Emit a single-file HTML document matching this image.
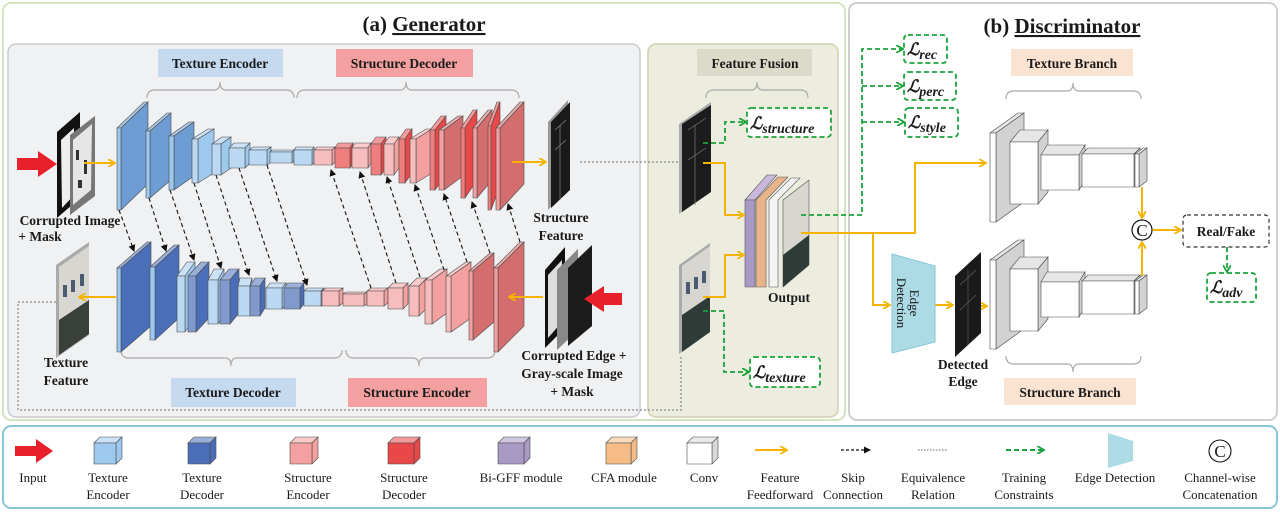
<!DOCTYPE html>
<html><head><meta charset="utf-8"><style>
html,body{margin:0;padding:0;background:#fff;}
svg{display:block;}
text{font-family:"Liberation Serif",serif;fill:#1a1a1a;}
.b{font-weight:bold;font-size:13.5px;}
.lg{font-size:13px;}
</style></head><body>
<svg id="s" width="1280" height="512" viewBox="0 0 1280 512" xmlns="http://www.w3.org/2000/svg">
<defs>
<marker id="ao" markerWidth="8" markerHeight="8" refX="6" refY="4" orient="auto" markerUnits="userSpaceOnUse"><path d="M0,0 L7,4 L0,8" fill="none" stroke="#f5b400" stroke-width="1.8"/></marker>
<marker id="ag" markerWidth="8" markerHeight="8" refX="6" refY="4" orient="auto" markerUnits="userSpaceOnUse"><path d="M0,0 L7,4 L0,8" fill="none" stroke="#1aa33a" stroke-width="1.8"/></marker>
<marker id="ak" markerWidth="7" markerHeight="7" refX="6" refY="3.5" orient="auto" markerUnits="userSpaceOnUse"><path d="M0,0 L7,3.5 L0,7 z" fill="#111"/></marker>
</defs>
<!-- panels -->
<rect x="3" y="3" width="842" height="417" rx="8" fill="#fff" stroke="#d4e4bf" stroke-width="2"/>
<rect x="8" y="44" width="632" height="373" rx="8" fill="#f0f1f3" stroke="#c8cacd" stroke-width="1.5"/>
<rect x="648" y="44" width="190" height="373" rx="8" fill="#ededdf" stroke="#cfcfae" stroke-width="1.5"/>
<rect x="849" y="3" width="428" height="417" rx="8" fill="#fff" stroke="#cfcfcf" stroke-width="2"/>
<rect x="3" y="426" width="1274" height="82" rx="8" fill="#fff" stroke="#86c6d6" stroke-width="2"/>
<text x="424" y="31" text-anchor="middle" style="font-weight:bold;font-size:21px">(a) <tspan text-decoration="underline">Generator</tspan></text>
<text x="1062" y="33" text-anchor="middle" style="font-weight:bold;font-size:21px">(b) <tspan text-decoration="underline">Discriminator</tspan></text>

<!-- label boxes -->
<rect x="158" y="49" width="125" height="28" fill="#c5d9ef"/><text x="220" y="68" text-anchor="middle" class="b">Texture Encoder</text>
<rect x="336" y="49" width="137" height="28" fill="#f4a0a0"/><text x="404" y="68" text-anchor="middle" class="b">Structure Decoder</text>
<rect x="171" y="378" width="125" height="29" fill="#c5d9ef"/><text x="233" y="397" text-anchor="middle" class="b">Texture Decoder</text>
<rect x="348" y="378" width="139" height="29" fill="#f4a0a0"/><text x="417" y="397" text-anchor="middle" class="b">Structure Encoder</text>
<rect x="697" y="49" width="115" height="27" fill="#dcdac8"/><text x="755" y="68" text-anchor="middle" class="b">Feature Fusion</text>
<rect x="1011" y="49" width="122" height="27" fill="#fbe3d2"/><text x="1072" y="68" text-anchor="middle" class="b">Texture Branch</text>
<rect x="1004" y="378" width="132" height="27" fill="#fbe3d2"/><text x="1070" y="397" text-anchor="middle" class="b">Structure Branch</text>

<!-- braces -->
<g fill="none" stroke="#aaa" stroke-width="1.2">
<path d="M147,98 Q147,90 155,90 L214,90 Q220,90 220,82 Q220,90 226,90 L286,90 Q294,90 294,98"/>
<path d="M297,98 Q297,90 305,90 L400,90 Q406,90 406,82 Q406,90 412,90 L511,90 Q519,90 519,98"/>
<path d="M121,350 Q121,358 129,358 L225,358 Q231,358 231,366 Q231,358 237,358 L334,358 Q342,358 342,350"/>
<path d="M346,350 Q346,358 354,358 L413,358 Q419,358 419,366 Q419,358 425,358 L487,358 Q495,358 495,350"/>
<path d="M706,98 Q706,90 714,90 L751,90 Q757,90 757,82 Q757,90 763,90 L800,90 Q808,90 808,98"/>
<path d="M1006,99 Q1006,91 1014,91 L1067,91 Q1073,91 1073,83 Q1073,91 1079,91 L1133,91 Q1141,91 1141,99"/>
<path d="M1006,356 Q1006,364 1014,364 L1067,364 Q1073,364 1073,372 Q1073,364 1079,364 L1133,364 Q1141,364 1141,356"/>
</g>

<g id="cubes"></g>

<!-- skip connections -->
<g stroke="#111" stroke-width="1.1" stroke-dasharray="4,3" marker-end="url(#ak)">
<line x1="119" y1="210" x2="134" y2="251"/><line x1="149" y1="198" x2="166" y2="251"/><line x1="170" y1="190" x2="194" y2="260"/>
<line x1="194" y1="183" x2="221" y2="268"/><line x1="216" y1="175" x2="249" y2="275"/><line x1="239" y1="168" x2="277" y2="281"/>
<line x1="267" y1="165" x2="307" y2="285"/>
<line x1="371" y1="288" x2="331" y2="170"/><line x1="396" y1="283" x2="360" y2="172"/><line x1="420" y1="277" x2="387" y2="177"/>
<line x1="444" y1="270" x2="415" y2="185"/><line x1="467" y1="262" x2="444" y2="194"/><line x1="490" y1="253" x2="472" y2="202"/>
<line x1="520" y1="242" x2="508" y2="204"/>
</g>

<!-- images -->
<polygon points="57,132 80,112 80,198 57,218" fill="#111"/>
<polygon points="61,140 74,128 74,195 62,208" fill="#eee"/>
<polygon points="70,135 95,116 95,196 70,215" fill="#777"/>
<polygon points="73,140 92,124 91,190 73,205" fill="#e6e6e6"/>
<g fill="#333"><rect x="76" y="150" width="3" height="10"/><rect x="84" y="160" width="3" height="14"/><rect x="78" y="180" width="4" height="8"/></g>
<polygon points="548,122 568,100 568,188 548,210" fill="#999"/>
<polygon points="551,122 570,102 570,190 551,208" fill="#1a1a1a"/>
<g stroke="#888" stroke-width="0.7"><line x1="555" y1="130" x2="566" y2="120"/><line x1="555" y1="150" x2="566" y2="140"/><line x1="560" y1="125" x2="560" y2="200"/></g>
<polygon points="56,265 89,242 89,335 56,358" fill="#aaa"/>
<polygon points="59,267 89,246 89,334 59,355" fill="#d8d6d0"/>
<polygon points="59,320 89,300 89,334 59,355" fill="#39403a"/>
<g fill="#4a5a70"><rect x="63" y="285" width="4" height="12"/><rect x="71" y="280" width="4" height="12"/><rect x="80" y="274" width="4" height="12"/></g>
<polygon points="545,270 565,247 565,328 545,348" fill="#111"/>
<polygon points="548,275 562,260 562,322 548,338" fill="#ddd"/>
<polygon points="557,270 578,249 578,330 557,350" fill="#888"/>
<polygon points="568,268 592,245 592,326 568,346" fill="#1c1c1c"/>
<!-- red input arrows -->
<polygon points="17,158 38,158 38,151 57,164 38,177 38,170 17,170" fill="#e8202a"/>
<polygon points="622,293 604,293 604,286 584,299 604,312 604,305 622,305" fill="#e8202a"/>
<!-- orange in generator -->
<g stroke="#f5b400" stroke-width="2" fill="none" marker-end="url(#ao)">
<line x1="84" y1="163" x2="114" y2="163"/><line x1="512" y1="162" x2="545" y2="162"/>
<line x1="543" y1="297" x2="510" y2="297"/><line x1="116" y1="297" x2="80" y2="297"/>
</g>
<!-- dotted equivalence -->
<g stroke="#999" stroke-width="1.5" stroke-dasharray="2,2" fill="none">
<line x1="580" y1="162" x2="682" y2="162"/>
<path d="M56,302 L18,302 L18,410 L681,410 L681,355"/>
</g>

<!-- label texts generator -->
<text x="70" y="225" text-anchor="middle" class="b">Corrupted Image</text>
<text x="40" y="241" text-anchor="middle" class="b">+ Mask</text>
<text x="561" y="222" text-anchor="middle" class="b">Structure</text>
<text x="561" y="240" text-anchor="middle" class="b">Feature</text>
<text x="66" y="367" text-anchor="middle" class="b">Texture</text>
<text x="66" y="385" text-anchor="middle" class="b">Feature</text>
<text x="574" y="360" text-anchor="middle" class="b">Corrupted Edge +</text>
<text x="572" y="378" text-anchor="middle" class="b">Gray-scale Image</text>
<text x="572" y="396" text-anchor="middle" class="b">+ Mask</text>

<!-- feature fusion -->
<polygon points="679,124 711,102 711,192 679,214" fill="#aaa"/>
<polygon points="682,124 711,105 711,192 682,212" fill="#1c1c1c"/>
<g stroke="#777" stroke-width="0.7"><line x1="688" y1="130" x2="706" y2="118"/><line x1="688" y1="160" x2="706" y2="148"/><line x1="695" y1="125" x2="695" y2="205"/></g>
<polygon points="679,265 710,243 710,332 679,354" fill="#aaa"/>
<polygon points="682,266 710,246 710,332 682,352" fill="#d8d6d0"/>
<polygon points="682,315 710,296 710,332 682,352" fill="#2f3b36"/>
<g fill="#4a5a70"><rect x="686" y="282" width="4" height="12"/><rect x="694" y="277" width="4" height="12"/><rect x="702" y="271" width="4" height="12"/></g>
<!-- output stack -->
<polygon points="745,200 767,175 777,175 755,200" fill="#c9b8dc" stroke="#555" stroke-width=".6"/>
<polygon points="745,200 755,200 755,287 745,287" fill="#a899c5" stroke="#555" stroke-width=".6"/>
<polygon points="756,200 778,177 788,177 766,200 766,287 756,287" fill="#eab48a" stroke="#555" stroke-width=".6"/>
<polygon points="769,200 791,178 800,178 778,200 778,287 769,287" fill="#f4f4f4" stroke="#555" stroke-width=".6"/>
<polygon points="783,200 809,180 809,265 783,287" fill="#d8d6d0" stroke="#555" stroke-width=".6"/>
<polygon points="783,255 809,235 809,265 783,287" fill="#2f3b36"/>
<text x="789" y="302" text-anchor="middle" class="b">Output</text>
<g stroke="#f5b400" stroke-width="2" fill="none" marker-end="url(#ao)">
<path d="M703,163 L725,163 L725,215 L743,215"/>
<path d="M703,297 L725,297 L725,255 L743,255"/>
<path d="M801,233 L915,233 L915,163 L985,163"/>
<path d="M873,233 L873,305 L889,305"/>
<line x1="935" y1="305" x2="952" y2="305"/>
<line x1="970" y1="306" x2="986" y2="306"/>
<line x1="1142" y1="187" x2="1142" y2="217"/>
<line x1="1142" y1="276" x2="1142" y2="243"/>
<line x1="1153" y1="230" x2="1180" y2="230"/>
</g>
<!-- green constraints -->
<g stroke="#1aa33a" stroke-width="1.8" stroke-dasharray="5,3" fill="none" marker-end="url(#ag)">
<path d="M703,143 L725,143 L725,122 L745,122"/>
<path d="M703,311 L724,311 L724,372 L748,372"/>
<path d="M801,215 L862,215 L862,49 L902,49"/>
<path d="M862,86 L902,86"/>
<path d="M862,122 L903,122"/>
<line x1="1227" y1="247" x2="1227" y2="271"/>
</g>
<g fill="#fff" stroke="#1aa33a" stroke-width="1.8" stroke-dasharray="5,3">
<rect x="747" y="108" width="84" height="29" rx="4"/>
<rect x="750" y="357" width="70" height="30" rx="4"/>
<rect x="904" y="35" width="43" height="28" rx="4"/>
<rect x="904" y="72" width="52" height="28" rx="4"/>
<rect x="905" y="108" width="53" height="29" rx="4"/>
<rect x="1207" y="273" width="49" height="29" rx="4"/>
</g>
<g style="font-style:italic;font-weight:bold;font-size:17px">
<text x="750" y="129">ℒ<tspan font-size="14" dy="4">structure</tspan></text>
<text x="753" y="378">ℒ<tspan font-size="14" dy="4">texture</tspan></text>
<text x="907" y="55">ℒ<tspan font-size="14" dy="4">rec</tspan></text>
<text x="907" y="92">ℒ<tspan font-size="14" dy="4">perc</tspan></text>
<text x="908" y="128">ℒ<tspan font-size="14" dy="4">style</tspan></text>
<text x="1210" y="293">ℒ<tspan font-size="14" dy="4">adv</tspan></text>
</g>
<!-- edge detection -->
<polygon points="892,254 935,266 935,342 892,353" fill="#acdbe6" stroke="#86c6d6" stroke-width="1"/>
<text transform="translate(910,303) rotate(90)" text-anchor="middle" style="font-size:13px">Edge</text>
<text transform="translate(897,303) rotate(90)" text-anchor="middle" style="font-size:13px">Detection</text>
<polygon points="955,276 981,252 981,333 955,357" fill="#1a1a1a"/>
<g stroke="#666" stroke-width="0.6"><line x1="960" y1="285" x2="976" y2="270"/><line x1="960" y1="310" x2="976" y2="295"/><line x1="968" y1="270" x2="968" y2="345"/></g>
<text x="963" y="369" text-anchor="middle" class="b">Detected</text>
<text x="963" y="386" text-anchor="middle" class="b">Edge</text>
<circle cx="1142" cy="230" r="10" fill="#fff" stroke="#111" stroke-width="1.2"/>
<text x="1142" y="236" text-anchor="middle" style="font-size:17px">C</text>
<rect x="1183" y="215" width="86" height="32" rx="4" fill="#fff" stroke="#333" stroke-width="1.2" stroke-dasharray="4,3"/>
<text x="1226" y="236" text-anchor="middle" class="b">Real/Fake</text>

<!-- legend -->
<polygon points="15,446 36,446 36,439 53,451 36,463 36,456 15,456" fill="#e8202a"/>
<g class="lg" text-anchor="middle">
<text x="33" y="482" class="lg">Input</text>
<text x="108" y="482" class="lg">Texture</text><text x="108" y="499" class="lg">Encoder</text>
<text x="202" y="482" class="lg">Texture</text><text x="202" y="499" class="lg">Decoder</text>
<text x="308" y="482" class="lg">Structure</text><text x="308" y="499" class="lg">Encoder</text>
<text x="404" y="482" class="lg">Structure</text><text x="404" y="499" class="lg">Decoder</text>
<text x="521" y="482" class="lg">Bi-GFF module</text>
<text x="624" y="482" class="lg">CFA module</text>
<text x="704" y="482" class="lg">Conv</text>
<text x="780" y="482" class="lg">Feature</text><text x="780" y="499" class="lg">Feedforward</text>
<text x="853" y="482" class="lg">Skip</text><text x="853" y="499" class="lg">Connection</text>
<text x="933" y="482" class="lg">Equivalence</text><text x="933" y="499" class="lg">Relation</text>
<text x="1024" y="482" class="lg">Training</text><text x="1024" y="499" class="lg">Constraints</text>
<text x="1115" y="482" class="lg">Edge Detection</text>
<text x="1220" y="482" class="lg">Channel-wise</text><text x="1220" y="499" class="lg">Concatenation</text>
</g>
<line x1="755" y1="450" x2="786" y2="450" stroke="#f5b400" stroke-width="2" marker-end="url(#ao)"/>
<line x1="841" y1="450" x2="870" y2="450" stroke="#111" stroke-width="1.3" stroke-dasharray="3,2" marker-end="url(#ak)"/>
<line x1="918" y1="450" x2="947" y2="450" stroke="#999" stroke-width="1.5" stroke-dasharray="1.5,1.5"/>
<line x1="1006" y1="450" x2="1043" y2="450" stroke="#1aa33a" stroke-width="2" stroke-dasharray="5,3" marker-end="url(#ag)"/>
<polygon points="1108,433 1133,441 1133,461 1108,468" fill="#acdbe6"/>
<circle cx="1220" cy="451" r="11" fill="#fff" stroke="#111" stroke-width="1.1"/>
<text x="1220" y="457" text-anchor="middle" style="font-size:17px">C</text>
</svg>
<script>
var NS="http://www.w3.org/2000/svg",G=document.getElementById("cubes");
function P(pts,f){var p=document.createElementNS(NS,"polygon");p.setAttribute("points",pts.map(function(a){return a.join(",")}).join(" "));p.setAttribute("fill",f);p.setAttribute("stroke","#4a4a4a");p.setAttribute("stroke-width","0.6");G.appendChild(p);}
function lt(c,k){var n=parseInt(c.slice(1),16),r=n>>16,g=n>>8&255,b=n&255;r=Math.round(r+(255-r)*k);g=Math.round(g+(255-g)*k);b=Math.round(b+(255-b)*k);return "rgb("+r+","+g+","+b+")";}
function cub(x0,x1,y0,y1,fw,oy,side,front){
 var ox=x1-x0-fw;front=front||lt(side,0.3);
 P([[x0,y0+oy],[x0+ox,y0],[x1,y0],[x0+fw,y0+oy]],lt(side,0.45));
 P([[x0+fw,y0+oy],[x1,y0],[x1,y1-oy],[x0+fw,y1]],side);
 P([[x0,y0+oy],[x0+fw,y0+oy],[x0+fw,y1],[x0,y1]],front);
}
var M="#6e9dd3",L="#9ec9ee",D="#4a6fb8",PL="#f4a0a0",R="#e84848",S="#d46e6e",W="#ffffff";
[[117,148,102,210,4,26,M,L],[146,171,113,198,4,18,M,L],[169,194,122,190,5,14,M,L],[192,214,129,183,6,10,L],
[212,231,137,175,9,7,L],[229,250,143,168,16,5,L],[249,271,147,165,18,3,L],[270,294,150,163,22,2,L],[294,314,147,165,18,3,L],
[314,335,147,165,18,3,PL],[335,353,143,168,15,5,R],[352,371,143,168,16,5,PL],
[371,386,137,175,10,7,R],[384,399,137,175,10,7,PL],[399,412,129,183,6,10,R],[410,432,129,183,6,10,PL],
[430,446,116,190,5,14,R],[439,463,116,190,5,14,S,PL],[461,477,110,198,4,18,R],[473,492,110,198,4,18,S,PL],
[488,500,102,210,3,24,R],[496,524,102,210,4,26,S,PL]].forEach(function(a){cub.apply(null,a);});
[[117,151,242,352,4,26,D,L],[150,179,245,340,5,22,D,L],
[177,195,262,332,8,14,L],[188,209,262,332,8,14,D],[208,224,269,324,10,11,L],[220,239,269,324,10,11,D],
[238,252,278,316,12,8,L],[250,265,278,316,10,8,D],[266,286,283,309,16,5,L],[284,304,283,309,16,5,D],
[304,324,288,306,17,3,L],[322,343,288,306,17,3,PL],[343,367,292,306,21,2,PL],[367,388,288,306,17,3,PL],
[388,408,283,309,15,5,PL],[409,427,278,316,10,8,PL],[425,447,269,324,7,11,PL],[446,471,262,332,5,14,PL],
[469,494,253,340,4,18,S,PL],[494,524,242,352,4,26,S,PL]].forEach(function(a){cub.apply(null,a);});
[0,127].forEach(function(o){
 cub(990,1024,113+o,222+o,6,20,"#d2d2d2",W);
 cub(1010,1048,130+o,204+o,28,12,"#d2d2d2",W);
 cub(1041,1085,145+o,190+o,38,10,"#d2d2d2",W);
 cub(1082,1140,148+o,187+o,52,6,"#d2d2d2",W);
 cub(1135,1147,148+o,187+o,4,6,"#d2d2d2",W);
});
[[94,122,L],[188,216,D],[290,318,PL],[388,420,R],[498,530,"#a899c5"],[606,637,"#f5bc88"],[687,718,W]].forEach(function(c){
 cub(c[0],c[1],437,464,c[1]-c[0]-6,6,c[2]==W?"#d8d8d8":c[2],c[2]==W?W:c[2]);
});
</script>
</body></html>
